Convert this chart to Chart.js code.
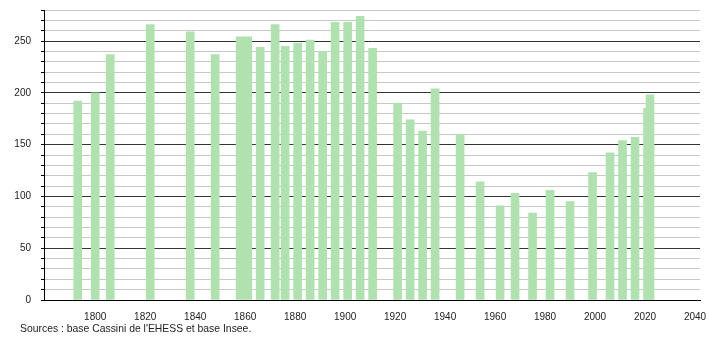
<!DOCTYPE html>
<html>
<head>
<meta charset="utf-8">
<script src="https://cdn.jsdelivr.net/npm/chart.js@4/dist/chart.umd.min.js"></script>
<style>
  html, body { margin: 0; padding: 0; background: #ffffff; }
  #wrap { position: relative; width: 710px; height: 340px; }
  #source { position: absolute; left: 20px; top: 324px; font: 10.4px "Liberation Sans", Arial, sans-serif; line-height: 10px; color: #222; white-space: nowrap; }
</style>
</head>
<body>
<div id="wrap">
  <canvas id="c" width="710" height="340"></canvas>
  <div id="source">Sources : base Cassini de l'EHESS et base Insee.</div>
</div>
<script>
const years = [1793,1800,1806,1822,1838,1848,1858,1861,1866,1872,1876,1881,1886,1891,1896,1901,1906,1911,1921,1926,1931,1936,1946,1954,1962,1968,1975,1982,1990,1999,2006,2011,2016,2021,2022];
const population = [192,200,237,266,259,237,254,254,244,266,245,248,251,240,268,268,274,243,190,174,163,204,160,114,91,103,84,106,95,123,142,154,157,185,198];
const xTickLabels = [1800,1820,1840,1860,1880,1900,1920,1940,1960,1980,2000,2020,2040];
const yTickLabels = [0,50,100,150,200,250];
const yGridValues = [0,10,20,30,40,50,60,70,80,90,100,110,120,130,140,150,160,170,180,190,200,210,220,230,240,250,260,270,280];

const points = years.map((y, i) => ({x: y, y: population[i]}));
const FONT = {family: '"Liberation Sans", Arial, sans-serif', size: 10};

new Chart(document.getElementById('c'), {
  type: 'bar',
  data: {
    datasets: [{
      data: points,
      backgroundColor: 'rgb(176,226,176)',
      borderWidth: 0,
      barThickness: 8
    }]
  },
  options: {
    responsive: false,
    animation: false,
    layout: {padding: {top: 10, right: 10, left: 0, bottom: 0}},
    plugins: {legend: {display: false}, tooltip: {enabled: false}},
    scales: {
      x: {
        type: 'linear',
        offset: false,
        min: 1779.5,
        max: 2042,
        grid: {display: false, offset: false},
        border: {display: true, color: '#000', width: 1},
        afterBuildTicks: s => { s.ticks = xTickLabels.map(v => ({value: v})); },
        afterFit: s => { s.height = 40; },
        ticks: {
          color: '#222', font: FONT, padding: 3, maxRotation: 0, autoSkip: false,
          callback: v => String(v)
        }
      },
      y: {
        min: 0,
        max: 280,
        afterFit: s => { s.width = 44; s.paddingTop = 0; s.paddingBottom = 0; },
        afterBuildTicks: s => { s.ticks = yGridValues.map(v => ({value: v})); },
        border: {display: true, color: '#000', width: 1},
        grid: {
          color: c => (c.tick && c.tick.value % 50 === 0) ? '#333333' : '#c8c8c8',
          lineWidth: 1,
          tickLength: 3,
          tickColor: '#000'
        },
        ticks: {
          autoSkip: false,
          color: '#222', font: FONT, padding: 10,
          callback: v => yTickLabels.includes(v) ? String(v) : ''
        }
      }
    }
  }
});
</script>
</body>
</html>
